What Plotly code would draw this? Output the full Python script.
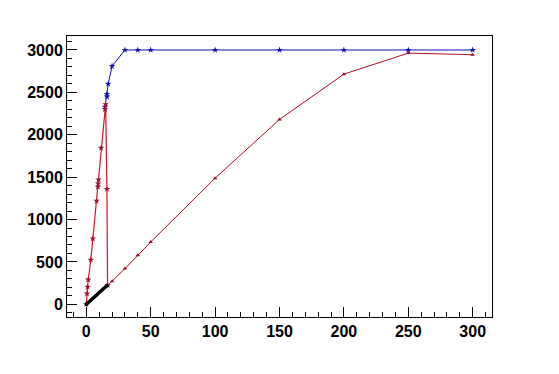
import plotly.graph_objects as go

# rising branch (red, asterisks)
rise_x = [0, 0.5, 1, 1.5, 3.5, 5, 8, 9, 9.2, 9.5, 11.5, 14.5, 15, 16, 16.5]
rise_y = [0, 125, 205, 290, 525, 775, 1220, 1385, 1425, 1470, 1845, 2300, 2360, 1360, 225]

# slow ramp (dark red)
ramp_x = [16.5, 20, 30, 40, 50, 100, 150, 200, 250, 300]
ramp_y = [225, 272, 421, 579, 735, 1488, 2180, 2715, 2963, 2944]

# saturated (blue)
sat_x = [14.5, 16, 16, 17, 20, 30, 40, 50, 100, 150, 200, 250, 300]
sat_y = [2330, 2450, 2480, 2600, 2810, 3000, 3000, 3000, 3000, 3000, 3000, 3000, 3000]

# low points (black)
low_x = [0, 1, 2, 3, 4, 5, 6, 7, 8, 9, 10, 11, 12, 13, 14, 15, 16]
low_y = [0, 14, 28, 41, 55, 69, 83, 96, 110, 124, 138, 152, 165, 179, 193, 207, 220]

fig = go.Figure()

fig.add_trace(go.Scatter(
    x = sat_x, y = sat_y, mode = "lines+markers",
    line = {'color': "#1010b0", 'width': 1},
    marker = {'symbol': "star", 'size': 5, 'color': "#1010b0"}))

fig.add_trace(go.Scatter(
    x = ramp_x, y = ramp_y, mode = "lines+markers",
    line = {'color': "#a81020", 'width': 1},
    marker = {'symbol': "triangle-up", 'size': 4, 'color': "#901020"}))

fig.add_trace(go.Scatter(
    x = rise_x, y = rise_y, mode = "lines+markers",
    line = {'color': "#e0102a", 'width': 1.2},
    marker = {'symbol': "star", 'size': 5, 'color': "#a01030"}))

fig.add_trace(go.Scatter(
    x = low_x, y = low_y, mode = "markers",
    marker = {'symbol': "diamond", 'size': 3.5, 'color': "black"}))

axis_common = dict(
    showgrid = False, zeroline = False,
    showline = True, linecolor = "black", linewidth = 1, mirror = True,
    ticks = "inside", ticklen = 10, tickcolor = "black", tickwidth = 1,
    tickfont = {'family': "Liberation Sans", 'size': 16, 'color': "black", 'weight': "bold"},
)

fig.update_xaxes(range = [-15, 315], tick0 = 0, dtick = 50,
                 minor = {'ticks': "inside", 'ticklen': 5, 'dtick': 10, 'tickcolor': "black"},
                 **axis_common)
fig.update_yaxes(range = [-150, 3165], tick0 = 0, dtick = 500,
                 minor = {'ticks': "inside", 'ticklen': 5, 'dtick': 100, 'tickcolor': "black"},
                 **axis_common)

fig.update_layout(
    width = 559, height = 374,
    margin = {'l': 59, 'r': 75, 't': 28, 'b': 65},
    paper_bgcolor = "white", plot_bgcolor = "white",
    showlegend = False)

fig.write_html("out.html")
